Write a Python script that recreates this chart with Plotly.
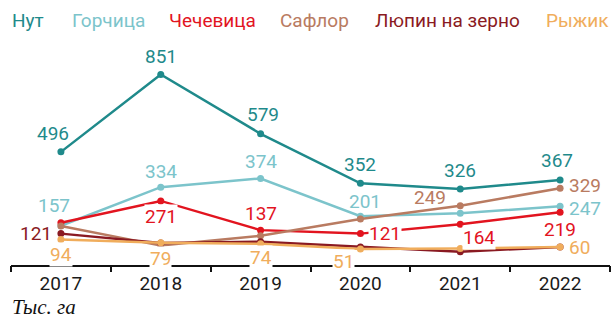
import plotly.graph_objects as go

years = ["2017", "2018", "2019", "2020", "2021", "2022"]
series_names = ["Нут", "Горчица", "Чечевица", "Сафлор", "Люпин на зерно", "Рыжик"]
nut = [496, 851, 579, 352, 326, 367]
gorchitsa = [157, 334, 374, 201, 214, 247]
chechevitsa = [171, 271, 137, 121, 164, 219]
saflor = [156, 66, 111, 188, 249, 329]
lupin = [121, 78, 84, 60, 38, 60]
ryzhik = [94, 79, 74, 51, 53, 60]
values = [nut, gorchitsa, chechevitsa, saflor, lupin, ryzhik]
colors = ["#1f8a8b", "#7cc4cb", "#e2141f", "#b97b61", "#8a1a22", "#f0ad5c"]

# labelled points: (index, dx px, dy px, anchor, knockout background)
label_spec = [
    [(0, -8, 18, "center", False), (1, 0, 18, "center", False), (2, 2, 19, "center", False),
     (3, 0, 19, "center", False), (4, 0, 18, "center", False), (5, -3, 19, "center", False)],
    [(0, -7, 20, "center", False), (1, 0, 16, "center", False), (2, 0, 17, "center", False),
     (3, 5, 15, "center", False), (5, 8, -2, "left", False)],
    [(1, 0, -16, "center", True), (2, 0, 17, "center", False), (3, 8, 0, "left", True),
     (4, 19, -13, "center", True), (5, 0, -17, "center", True)],
    [(4, -30, 8, "center", False), (5, 8, 3, "left", False)],
    [(0, -8, 0, "right", False)],
    [(0, 0, -15, "center", True), (1, 0, -16, "center", True), (2, 0, -14, "center", True),
     (3, -17, -13, "center", True), (5, 8, -1, "left", False)],
]
legend_x_px = [10, 70, 167, 278, 373, 544]

W, H = 615, 329
ML, MR, MT, MB = 11, 5, 40, 64
FONT = "Roboto, Arial, sans-serif"
plot_w = W - ML - MR
plot_h = H - MT - MB


def py_to_paper(py):
    return (H - MB - py) / plot_h


def px_to_paper(px):
    return (px - ML) / plot_w


fig = go.Figure()
for name, vals, col in zip(series_names, values, colors):
    fig.add_trace(go.Scatter(
        x=list(range(len(years))), y=vals, name=name, mode="lines+markers",
        line=dict(color=col, width=2.5),
        marker=dict(color=col, size=7),
        showlegend=False, hoverinfo="skip",
    ))

annotations = []
for vals, col, spec in zip(values, colors, label_spec):
    for idx, dx, dy, anchor, knock in spec:
        annotations.append(dict(
            x=idx, y=vals[idx], xref="x", yref="y",
            text=str(vals[idx]), showarrow=False,
            xanchor=anchor, yanchor="middle", xshift=dx, yshift=dy,
            font=dict(family=FONT, size=19, color=col),
            bgcolor="white" if knock else "rgba(0,0,0,0)", borderpad=0,
        ))

for name, col, px in zip(series_names, colors, legend_x_px):
    annotations.append(dict(
        x=px_to_paper(px), y=py_to_paper(20), xref="paper", yref="paper",
        text=name, showarrow=False, xanchor="left", yanchor="middle",
        font=dict(family=FONT, size=19, color=col),
    ))

annotations.append(dict(
    x=px_to_paper(10), y=py_to_paper(307), xref="paper", yref="paper",
    text="<i>Тыс. га</i>", showarrow=False, xanchor="left", yanchor="middle",
    font=dict(family="Liberation Serif, DejaVu Serif, serif", size=21, color="#111"),
))

zero_px = 260
axis_px = H - MB
px_per_unit = 0.218
ymin = -(axis_px - zero_px) / px_per_unit
ymax = ymin + plot_h / px_per_unit

fig.update_layout(
    width=W, height=H,
    margin=dict(l=ML, r=MR, t=MT, b=MB),
    plot_bgcolor="white", paper_bgcolor="white",
    annotations=annotations,
    xaxis=dict(
        range=[-0.5, 5.5], showgrid=False, zeroline=False,
        tickmode="array", tickvals=list(range(len(years))), ticktext=years,
        showline=True, linecolor="#111", linewidth=1.5,
        ticks="", fixedrange=True,
        tickfont=dict(family=FONT, size=19, color="#1a1a1a"),
    ),
    xaxis2=dict(
        overlaying="x", range=[-0.5, 5.5], showgrid=False, zeroline=False,
        tickmode="array", tickvals=[i - 0.5 for i in range(len(years) + 1)],
        showticklabels=False, ticks="outside", ticklen=6, tickcolor="#111", tickwidth=1.5,
        side="bottom", anchor="y", fixedrange=True,
    ),
    yaxis=dict(range=[ymin, ymax], visible=False, fixedrange=True),
)
fig.add_trace(go.Scatter(x=[], y=[], xaxis="x2", showlegend=False, hoverinfo="skip"))

fig.write_html("out.html")
